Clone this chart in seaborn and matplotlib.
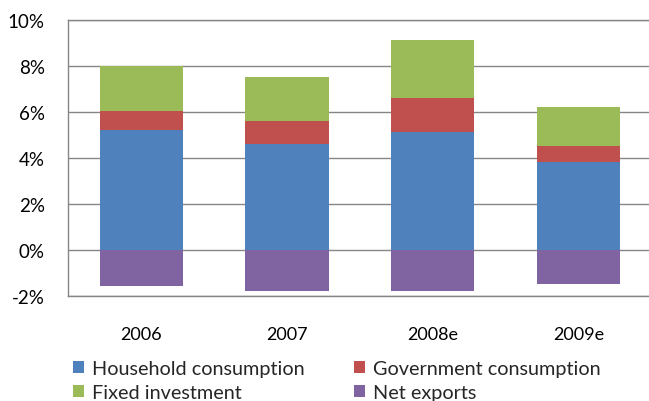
import numpy as np
import pandas as pd
import matplotlib
matplotlib.use('Agg')
import matplotlib.pyplot as plt
from matplotlib.patches import Patch
import seaborn as sns

# Contributions to GDP growth (percentage points)
years = ['2006', '2007', '2008e', '2009e']
household = [5.2, 4.6, 5.1, 3.8]
government = [0.85, 1.0, 1.5, 0.7]
fixed_inv = [1.95, 1.9, 2.5, 1.7]
net_exports = [-1.6, -1.8, -1.8, -1.5]

series_names = ['Household consumption', 'Government consumption', 'Fixed investment', 'Net exports']
colors = ['#4F81BD', '#C0504D', '#9BBB59', '#8064A2']

sns.set_theme(style='white')
plt.rcParams['font.family'] = ['Lato', 'DejaVu Sans']

fig = plt.figure(figsize=(6.49, 4.02), dpi=100)
ax = fig.add_axes([0.1052, 0.262, 0.8986, 0.6866])

df = pd.DataFrame({'year': years, 'household': household, 'government': government,
                   'fixed': fixed_inv, 'net': net_exports})
bottom_gov = np.array(household)
bottom_fix = bottom_gov + np.array(government)

bar_w = 0.57
sns.barplot(data=df, x='year', y='household', color=colors[0], width=bar_w, ax=ax,
            saturation=1, linewidth=0, zorder=3)
sns.barplot(data=df, x='year', y='government', bottom=bottom_gov, color=colors[1], width=bar_w,
            ax=ax, saturation=1, linewidth=0, zorder=3)
sns.barplot(data=df, x='year', y='fixed', bottom=bottom_fix, color=colors[2], width=bar_w,
            ax=ax, saturation=1, linewidth=0, zorder=3)
sns.barplot(data=df, x='year', y='net', color=colors[3], width=bar_w, ax=ax,
            saturation=1, linewidth=0, zorder=3)

ax.set_xlim(-0.5, 3.5)
ax.set_ylim(-2, 10)
ax.set_yticks(np.arange(-2, 11, 2))
ax.set_yticklabels([f'{v}%' for v in range(-2, 11, 2)])
ax.set_xlabel('')
ax.set_ylabel('')

ax.grid(axis='y', color='#868686', linewidth=1.0, zorder=1)
ax.grid(axis='x', visible=False)
for side in ['left', 'bottom', 'top', 'right']:
    ax.spines[side].set_color('#868686')
    ax.spines[side].set_linewidth(1.0)
ax.tick_params(axis='y', length=0, pad=17, labelsize=13.5, colors='#000000')
ax.tick_params(axis='x', length=0, pad=22, labelsize=13, colors='#000000')

order = [0, 2, 1, 3]
handles = [Patch(facecolor=colors[i], edgecolor='none') for i in order]
labels = [series_names[i] for i in order]
fig.legend(handles, labels, ncol=2, loc='upper left', bbox_to_anchor=(0.113, 0.103),
           frameon=False, fontsize=14.3, handlelength=0.55, handleheight=0.55,
           handletextpad=0.4, columnspacing=2.5, labelspacing=0.38, borderpad=0,
           borderaxespad=0)

fig.savefig('out.png', dpi=100)
